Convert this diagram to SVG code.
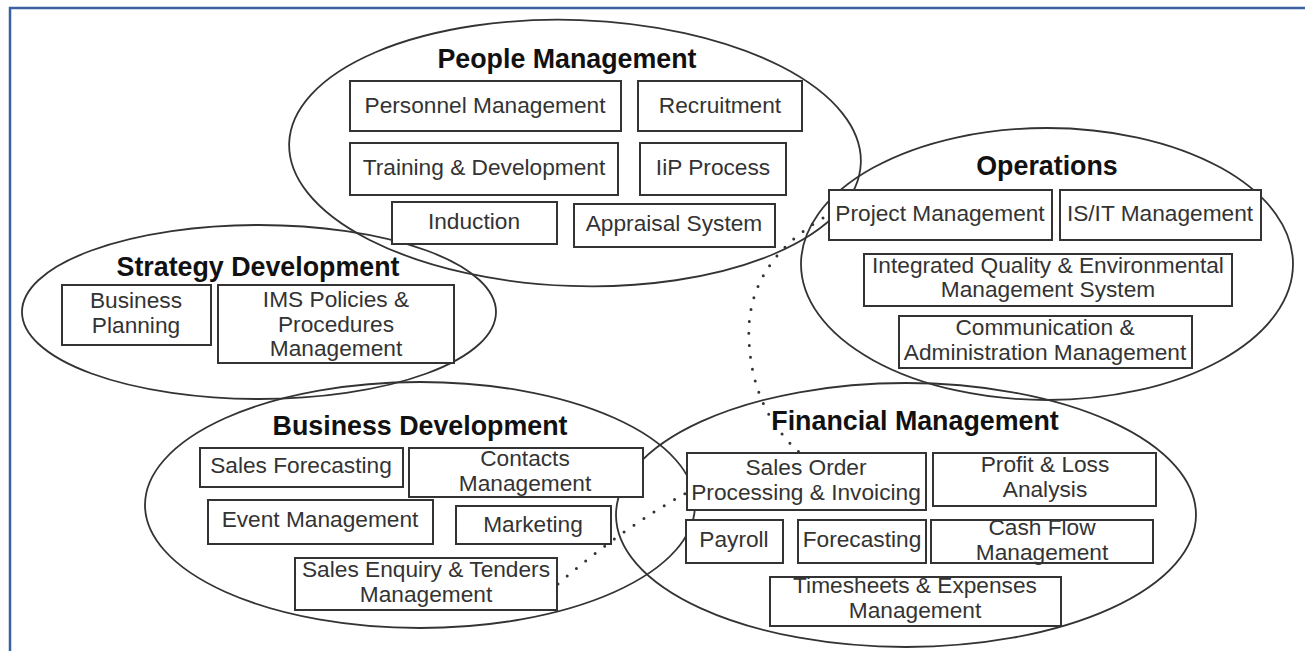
<svg xmlns="http://www.w3.org/2000/svg" width="1305" height="651" viewBox="0 0 1305 651">
<style>
.ell{fill:none;stroke:#333;stroke-width:1.8}
.box{fill:#fff;stroke:#333;stroke-width:2}
.t{font-family:"Liberation Sans",Arial,sans-serif;font-size:22.7px;fill:#333;text-anchor:middle}
.h{font-family:"Liberation Sans",Arial,sans-serif;font-size:26.8px;font-weight:bold;fill:#111;text-anchor:middle}
.dot{fill:none;stroke:#333;stroke-width:3;stroke-linecap:round;stroke-dasharray:0 12}
</style>
<rect x="0" y="0" width="1305" height="651" fill="#fff"/>
<rect x="10" y="8" width="1310" height="700" fill="none" stroke="#3a62a0" stroke-width="2.5"/>
<g id="ellipses">
<ellipse class="ell" cx="575" cy="153" rx="286" ry="133" transform="rotate(2 575 153)"/>
<ellipse class="ell" cx="259" cy="312" rx="237" ry="87"/>
<ellipse class="ell" cx="420" cy="505" rx="275" ry="123"/>
<ellipse class="ell" cx="906" cy="515" rx="290" ry="132"/>
<ellipse class="ell" cx="1047" cy="264" rx="246" ry="136"/>
</g>
<g id="connectors">
<path class="dot" d="M 823 218 Q 745 265 749 340 Q 752 410 800 453"/>
<path class="dot" d="M 558 584 Q 620 530 686 493"/>
</g>
<g id="people">
<text class="h" x="567" y="68">People Management</text>
<g id="personnel"><rect class="box" x="350" y="81" width="271" height="50"/><text class="t" x="485" y="113">Personnel Management</text></g>
<g id="recruitment"><rect class="box" x="638" y="81" width="164" height="50"/><text class="t" x="720" y="113">Recruitment</text></g>
<g id="training"><rect class="box" x="350" y="143" width="268" height="52"/><text class="t" x="484" y="175">Training &amp; Development</text></g>
<g id="iip"><rect class="box" x="640" y="143" width="146" height="52"/><text class="t" x="713" y="175">IiP Process</text></g>
<g id="induction"><rect class="box" x="392" y="202" width="165" height="42"/><text class="t" x="474" y="229">Induction</text></g>
<g id="appraisal"><rect class="box" x="574" y="204" width="201" height="43"/><text class="t" x="674" y="231">Appraisal System</text></g>
</g>
<g id="strategy">
<text class="h" x="258" y="276">Strategy Development</text>
<g id="bplanning"><rect class="box" x="62" y="285" width="149" height="60"/><text class="t" x="136" y="308">Business</text><text class="t" x="136" y="333">Planning</text></g>
<g id="ims"><rect class="box" x="218" y="285" width="236" height="78"/><text class="t" x="336" y="307">IMS Policies &amp;</text><text class="t" x="336" y="331.5">Procedures</text><text class="t" x="336" y="356">Management</text></g>
</g>
<g id="business">
<text class="h" x="420" y="435">Business Development</text>
<g id="salesfc"><rect class="box" x="200" y="448" width="203" height="39"/><text class="t" x="301" y="473">Sales Forecasting</text></g>
<g id="contacts"><rect class="box" x="409" y="448" width="234" height="49"/><text class="t" x="525" y="466">Contacts</text><text class="t" x="525" y="490.5">Management</text></g>
<g id="event"><rect class="box" x="208" y="500" width="225" height="44"/><text class="t" x="320" y="527">Event Management</text></g>
<g id="marketing"><rect class="box" x="456" y="506" width="155" height="38"/><text class="t" x="533" y="532">Marketing</text></g>
<g id="enquiry"><rect class="box" x="295" y="558" width="262" height="52"/><text class="t" x="426" y="577">Sales Enquiry &amp; Tenders</text><text class="t" x="426" y="602">Management</text></g>
</g>
<g id="financial">
<text class="h" x="915" y="430">Financial Management</text>
<g id="salesorder"><rect class="box" x="687" y="453" width="239" height="57"/><text class="t" x="806" y="475">Sales Order</text><text class="t" x="806" y="500">Processing &amp; Invoicing</text></g>
<g id="profit"><rect class="box" x="933" y="453" width="223" height="53"/><text class="t" x="1045" y="472">Profit &amp; Loss</text><text class="t" x="1045" y="497">Analysis</text></g>
<g id="payroll"><rect class="box" x="686" y="520" width="97" height="43"/><text class="t" x="734" y="547">Payroll</text></g>
<g id="forecasting"><rect class="box" x="798" y="520" width="128" height="43"/><text class="t" x="862" y="547">Forecasting</text></g>
<g id="cashflow"><rect class="box" x="931" y="520" width="222" height="43"/><text class="t" x="1042" y="535">Cash Flow</text><text class="t" x="1042" y="560">Management</text></g>
<g id="timesheets"><rect class="box" x="770" y="577" width="291" height="49"/><text class="t" x="915" y="593">Timesheets &amp; Expenses</text><text class="t" x="915" y="618">Management</text></g>
</g>
<g id="operations">
<text class="h" x="1047" y="175">Operations</text>
<g id="project"><rect class="box" x="829" y="190" width="223" height="50"/><text class="t" x="940" y="221">Project Management</text></g>
<g id="isit"><rect class="box" x="1060" y="190" width="201" height="50"/><text class="t" x="1160" y="221">IS/IT Management</text></g>
<g id="iqems"><rect class="box" x="864" y="254" width="368" height="52"/><text class="t" x="1048" y="273">Integrated Quality &amp; Environmental</text><text class="t" x="1048" y="297">Management System</text></g>
<g id="comm"><rect class="box" x="899" y="316" width="293" height="52"/><text class="t" x="1045" y="335">Communication &amp;</text><text class="t" x="1045" y="360">Administration Management</text></g>
</g>
</svg>
